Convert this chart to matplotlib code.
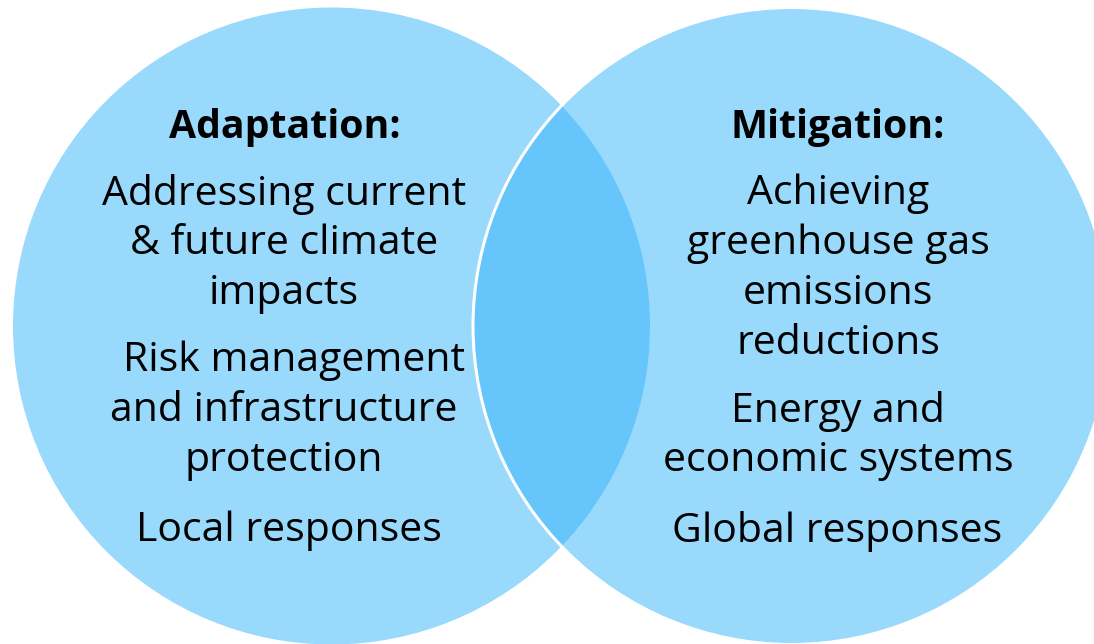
import matplotlib
matplotlib.use("Agg")
import matplotlib.pyplot as plt
from matplotlib.patches import Circle

# Data
left_title = "Adaptation:"
left_lines = ["Addressing current", "& future climate", "impacts",
              "Risk management", "and infrastructure", "protection",
              "Local responses"]
left_line_y = [191, 241, 291, 358, 408, 458, 528]
left_line_x = [284, 284, 284, 294, 284, 284, 289]

right_title = "Mitigation:"
right_lines = ["Achieving", "greenhouse gas", "emissions", "reductions",
               "Energy and", "economic systems", "Global responses"]
right_line_y = [191, 241, 291, 341, 408, 458, 528]
right_line_x = [838, 838, 838, 838, 838, 838, 837]

W, H = 1094, 644
fig = plt.figure(figsize=(W / 100, H / 100), dpi=100)
ax = fig.add_axes([0, 0, 1, 1])
ax.set_xlim(0, W)
ax.set_ylim(H, 0)
ax.set_aspect("auto")
ax.axis("off")

light = "#98D9FC"
dark = "#66C6FC"
r = 318.5
lc = (331.5, 326)
rc = (791.5, 326)

left = Circle(lc, r, facecolor=light, edgecolor="none", zorder=1)
ax.add_patch(left)
right = Circle(rc, r, facecolor=light, edgecolor="none", zorder=2)
ax.add_patch(right)
lens = Circle(rc, r, facecolor=dark, edgecolor="none", zorder=3)
ax.add_patch(lens)
lens.set_clip_path(Circle(lc, r, transform=ax.transData))
edge = Circle(rc, r, facecolor="none", edgecolor="white", linewidth=2.2, zorder=4)
ax.add_patch(edge)

font = "Open Sans"
fs = 29.5
fs_title = 28.3
dy = 3
ax.text(285, 124 + dy, left_title, ha="center", va="center", fontsize=fs_title,
        fontweight="bold", family=font, zorder=5)
ax.text(838, 124 + dy, right_title, ha="center", va="center", fontsize=fs_title,
        fontweight="bold", family=font, zorder=5)
for s, x, y in zip(left_lines, left_line_x, left_line_y):
    ax.text(x, y + dy, s, ha="center", va="center", fontsize=fs, family=font, zorder=5)
for s, x, y in zip(right_lines, right_line_x, right_line_y):
    ax.text(x, y + dy, s, ha="center", va="center", fontsize=fs, family=font, zorder=5)

fig.savefig("out.png", dpi=100)
